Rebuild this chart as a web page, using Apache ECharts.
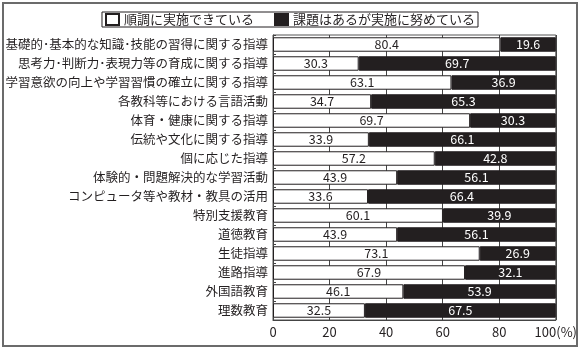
<!DOCTYPE html>
<html><head><meta charset="utf-8">
<script src="https://cdn.jsdelivr.net/npm/echarts@6/dist/echarts.min.js"></script>
<style>html,body{margin:0;padding:0;background:#fff}#c{width:580px;height:350px}</style>
</head><body><div id="c"></div>
<script>
const categories = [
  "基礎的･基本的な知識･技能の習得に関する指導",
  "思考力･判断力･表現力等の育成に関する指導",
  "学習意欲の向上や学習習慣の確立に関する指導",
  "各教科等における言語活動",
  "体育・健康に関する指導",
  "伝統や文化に関する指導",
  "個に応じた指導",
  "体験的・問題解決的な学習活動",
  "コンピュータ等や教材・教具の活用",
  "特別支援教育",
  "道徳教育",
  "生徒指導",
  "進路指導",
  "外国語教育",
  "理数教育"
];
const goodValues = [80.4,30.3,63.1,34.7,69.7,33.9,57.2,43.9,33.6,60.1,43.9,73.1,67.9,46.1,32.5];
const effortValues = [19.6,69.7,36.9,65.3,30.3,66.1,42.8,56.1,66.4,39.9,56.1,26.9,32.1,53.9,67.5];
const seriesNames = ["順調に実施できている","課題はあるが実施に努めている"];
const xTicks = [0,20,40,60,80,100];

const FONT = '"Noto Sans CJK JP", sans-serif';
const INK = '#231f20';
const chart = echarts.init(document.getElementById('c'), null, {renderer:'canvas'});
chart.setOption({
  animation:false,
  textStyle:{fontFamily:FONT, color:INK},
  graphic:[{type:'rect', shape:{x:3,y:3,width:574,height:343}, style:{fill:'none', stroke:'#6b6b6b', lineWidth:2}, z:-1}],
  legend:{
    top:12, left:'center', icon:'rect',
    itemWidth:13, itemHeight:11, itemGap:20,
    borderColor:INK, borderWidth:1, padding:[1,3,1,3],
    textStyle:{fontFamily:FONT, fontSize:13, color:INK},
    data:seriesNames
  },
  grid:{left:273, right:20, top:35, bottom:30, show:true, borderColor:'#555', borderWidth:1, backgroundColor:'transparent'},
  xAxis:{
    type:'value', min:0, max:100, interval:20,
    axisLine:{show:true, lineStyle:{color:'#444'}},
    axisTick:{show:false},
    splitLine:{show:true, lineStyle:{color:'#444', width:1}},
    axisLabel:{fontFamily:FONT, fontSize:13, color:INK, margin:6,
      formatter:v => xTicks.includes(v) ? (v===100 ? '100(%)' : String(v)) : ''}
  },
  yAxis:{
    type:'category', inverse:true, data:categories,
    axisLine:{show:true, lineStyle:{color:'#444'}},
    axisTick:{show:true, inside:true, length:3, lineStyle:{color:'#444'}},
    axisLabel:{fontFamily:FONT, fontSize:12.5, color:INK, margin:5}
  },
  series:[
    {name:seriesNames[0], type:'bar', stack:'s', data:goodValues, barCategoryGap:'24%',
     itemStyle:{color:'#fff', borderColor:INK, borderWidth:1},
     label:{show:true, position:'inside', fontFamily:FONT, fontSize:12.5, color:INK}},
    {name:seriesNames[1], type:'bar', stack:'s', data:effortValues, barCategoryGap:'24%',
     itemStyle:{color:INK, borderColor:INK, borderWidth:1},
     label:{show:true, position:'inside', fontFamily:FONT, fontSize:12.5, color:'#fff'}}
  ]
});
</script></body></html>
